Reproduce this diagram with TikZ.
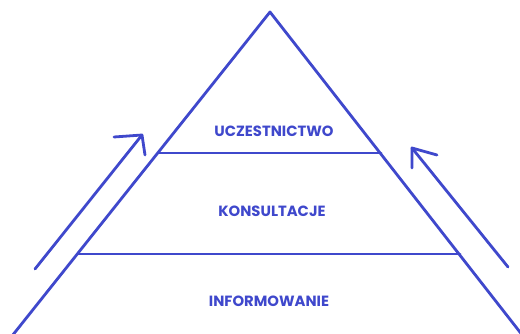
\documentclass[tikz,border=0pt]{standalone}
\usepackage{fontspec}
\setmainfont{Poppins}
\definecolor{pblue}{RGB}{63,72,204}
\begin{document}
\begin{tikzpicture}[x=1pt,y=-1pt,
  ln/.style={draw=pblue,line width=2.8pt,line cap=round,line join=round},
  lbl/.style={text=pblue,font=\fontsize{14.8}{16}\selectfont\bfseries,inner sep=0pt,anchor=center}]
\useasboundingbox[fill=white] (0,0) rectangle (520,334);
\clip (0,0) rectangle (520,334);
% triangle
\coordinate (apex) at (270,12);
\coordinate (bl) at (12,336);
\coordinate (br) at (523,336);
\coordinate (t1l) at (158,153);
\coordinate (t1r) at (381,153);
\coordinate (t2l) at (78,254);
\coordinate (t2r) at (460,254);
\draw[ln] (bl) -- (apex) -- (br);
\draw[ln] (t1l) -- (t1r);
\draw[ln] (t2l) -- (t2r);
% labels
\node[lbl] (u) at (274,131) {UCZESTNICTWO};
\node[lbl] (k) at (272,211) {KONSULTACJE};
\node[lbl] (i) at (269,301) {INFORMOWANIE};
% left arrow
\coordinate (la0) at (35,269);
\coordinate (la1) at (142,135);
\coordinate (law1) at (114,137);
\coordinate (law2) at (145,155);
\draw[ln] (la0) -- (la1);
\draw[ln] (law1) -- (la1) -- (law2);
% right arrow
\coordinate (ra0) at (508,267);
\coordinate (ra1) at (412,148);
\coordinate (raw1) at (437,155);
\coordinate (raw2) at (412,168);
\draw[ln] (ra0) -- (ra1);
\draw[ln] (raw1) -- (ra1) -- (raw2);
\end{tikzpicture}
\end{document}
